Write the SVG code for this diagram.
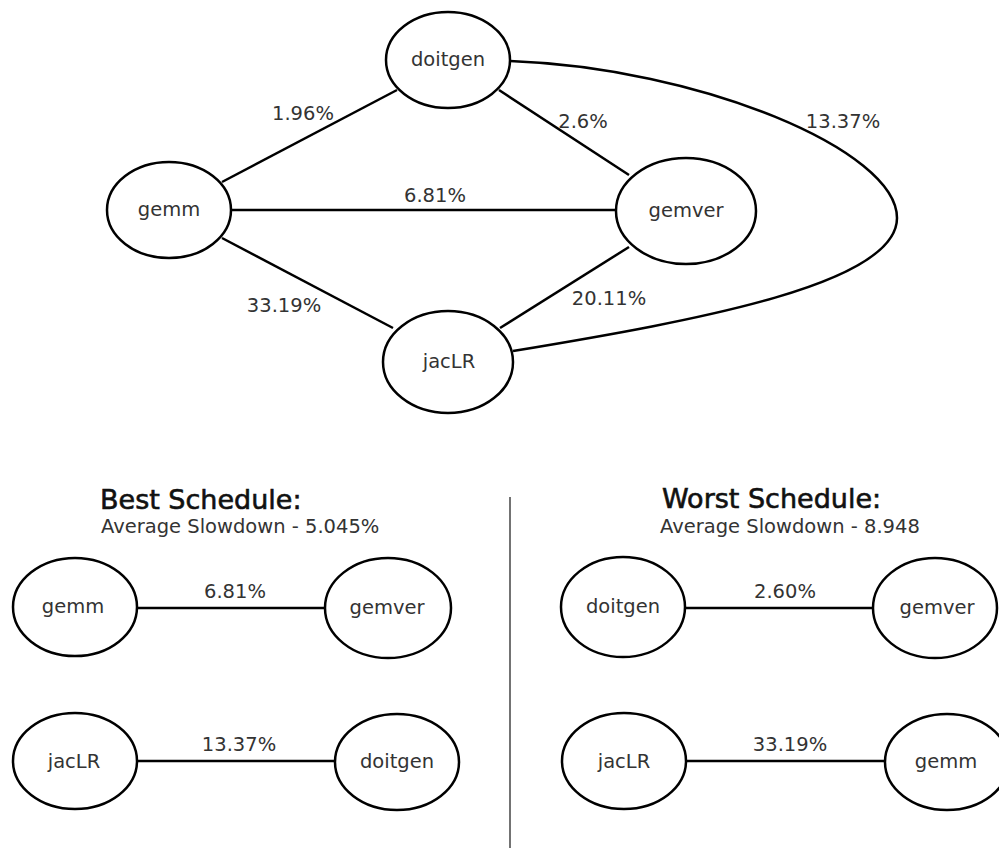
<svg xmlns="http://www.w3.org/2000/svg" width="999" height="848" viewBox="0 0 999 848">
  <style>
    .node ellipse { fill: #ffffff; stroke: #000000; stroke-width: 2.5; }
    .node text, .lbl { font-family: "DejaVu Sans", "Liberation Sans", sans-serif; font-size: 19.5px; fill: #333333; text-anchor: middle; }
    .edges line, .edges path { stroke: #000000; stroke-width: 2.5; fill: none; }
    .title { font-family: "DejaVu Sans", "Liberation Sans", sans-serif; font-size: 27px; fill: #111111; stroke: #111111; stroke-width: 0.6; }
    .sub { font-family: "DejaVu Sans", "Liberation Sans", sans-serif; font-size: 19.5px; fill: #333333; }
  </style>
  <rect width="999" height="848" fill="#ffffff"/>

  <!-- full interference graph: connectors -->
  <g id="edges-main" class="edges">
    <line x1="222" y1="182" x2="397" y2="90"/>
    <line x1="231" y1="210" x2="616" y2="210"/>
    <line x1="222" y1="238" x2="393" y2="328"/>
    <line x1="499" y1="90" x2="629" y2="175"/>
    <line x1="500" y1="328" x2="629" y2="247"/>
    <path d="M510,61 C700,68 897,150 897,218 C897,284 700,320 513,351"/>
  </g>
  <g id="edge-labels-main">
    <text class="lbl" x="303" y="120">1.96%</text>
    <text class="lbl" x="583" y="128">2.6%</text>
    <text class="lbl" x="843" y="128">13.37%</text>
    <text class="lbl" x="435" y="202">6.81%</text>
    <text class="lbl" x="284" y="312">33.19%</text>
    <text class="lbl" x="609" y="305">20.11%</text>
  </g>

  <g id="doitgen" class="node">
    <ellipse cx="448" cy="60" rx="62" ry="48"/>
    <text x="448" y="66">doitgen</text>
  </g>
  <g id="gemm" class="node">
    <ellipse cx="169" cy="210" rx="62" ry="48"/>
    <text x="169" y="216">gemm</text>
  </g>
  <g id="gemver" class="node">
    <ellipse cx="686" cy="211" rx="70" ry="53"/>
    <text x="686" y="217">gemver</text>
  </g>
  <g id="jacLR" class="node">
    <ellipse cx="448" cy="362" rx="65" ry="51"/>
    <text x="449" y="368">jacLR</text>
  </g>

  <!-- divider between the two schedules -->
  <line x1="510" y1="497" x2="510" y2="848" stroke="#444444" stroke-width="1.5"/>

  <!-- best schedule -->
  <text class="title" x="100" y="509">Best Schedule:</text>
  <text class="sub" x="101" y="533">Average Slowdown - 5.045%</text>

  <g id="edges-best" class="edges">
    <line x1="137" y1="608" x2="325" y2="608"/>
    <line x1="137" y1="761" x2="335" y2="761"/>
  </g>
  <g id="edge-labels-best">
    <text class="lbl" x="235" y="598">6.81%</text>
    <text class="lbl" x="239" y="751">13.37%</text>
  </g>
  <g id="best-gemm" class="node">
    <ellipse cx="75" cy="607" rx="62" ry="49"/>
    <text x="73" y="613">gemm</text>
  </g>
  <g id="best-gemver" class="node">
    <ellipse cx="388" cy="608" rx="63" ry="50"/>
    <text x="387" y="614">gemver</text>
  </g>
  <g id="best-jacLR" class="node">
    <ellipse cx="75" cy="761" rx="62" ry="48"/>
    <text x="74" y="768">jacLR</text>
  </g>
  <g id="best-doitgen" class="node">
    <ellipse cx="397" cy="762" rx="62" ry="48"/>
    <text x="397" y="768">doitgen</text>
  </g>

  <!-- worst schedule -->
  <text class="title" x="662" y="508">Worst Schedule:</text>
  <text class="sub" x="660" y="533">Average Slowdown - 8.948</text>

  <g id="edges-worst" class="edges">
    <line x1="685" y1="608" x2="873" y2="608"/>
    <line x1="686" y1="761" x2="885" y2="761"/>
  </g>
  <g id="edge-labels-worst">
    <text class="lbl" x="785" y="598">2.60%</text>
    <text class="lbl" x="790" y="751">33.19%</text>
  </g>
  <g id="worst-doitgen" class="node">
    <ellipse cx="623" cy="607" rx="62" ry="50"/>
    <text x="623" y="613">doitgen</text>
  </g>
  <g id="worst-gemver" class="node">
    <ellipse cx="935" cy="608" rx="62" ry="50"/>
    <text x="937" y="614">gemver</text>
  </g>
  <g id="worst-jacLR" class="node">
    <ellipse cx="624" cy="761" rx="62" ry="48"/>
    <text x="624" y="768">jacLR</text>
  </g>
  <g id="worst-gemm" class="node">
    <ellipse cx="947" cy="762" rx="62" ry="48"/>
    <text x="946" y="768">gemm</text>
  </g>
</svg>
